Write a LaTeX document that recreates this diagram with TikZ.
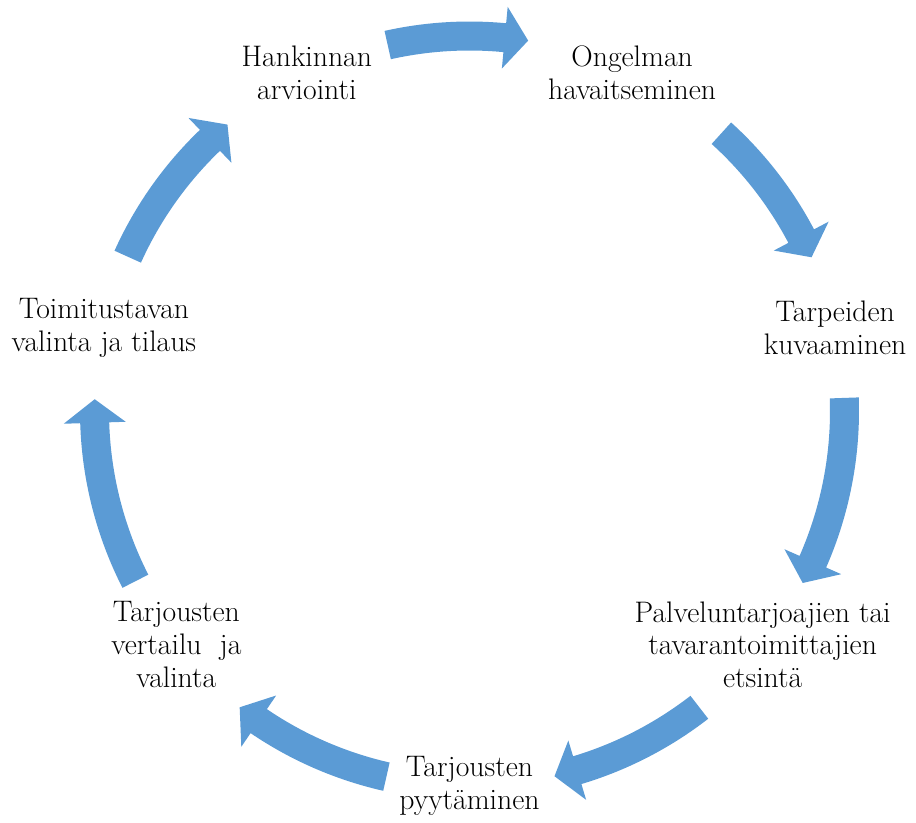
\documentclass[tikz,border=0pt]{standalone}
\usepackage{tikz}
\usetikzlibrary{calc,positioning}
\definecolor{cycleblue}{HTML}{5B9BD5}

\newcommand{\cyclearrow}[2]{%
  \fill[arrowfill] ($(c)+(#1:7.79)$) arc[start angle=#1, end angle=#2+3.6, radius=7.79]
    -- ($(c)+(#2+3.6:8.12)$) -- ($(c)+(#2:7.5)$) -- ($(c)+(#2+3.6:6.88)$)
    -- ($(c)+(#2+3.6:7.21)$) arc[start angle=#2+3.6, end angle=#1, radius=7.21] -- cycle;}

\begin{document}
\begin{tikzpicture}[
    stagetext/.style={align=center, font=\fontsize{16.9}{18.7}\selectfont},
    arrowfill/.style={fill=cycleblue}]
  \useasboundingbox (0,0) rectangle (18.32,-16.46);
  \coordinate (c) at (9.39,-8.22);

  \node[stagetext] (ongelma) at ($(c)+(64.29:7.5)$) {Ongelman\\havaitseminen};
  \node[stagetext] (tarpeet) at ($(c)+(12.86:7.5)$) {Tarpeiden\\kuvaaminen};
  \node[stagetext] (etsinta) at ($(c)+(-38.57:7.5)$) {Palveluntarjoajien tai\\tavarantoimittajien\\etsintä};
  \node[stagetext] (pyynto) at ($(c)+(-90:7.5)$) {Tarjousten\\pyytäminen};
  \node[stagetext] (vertailu) at ($(c)+(-141.43:7.5)$) {Tarjousten\\vertailu~~ja\\valinta};
  \node[stagetext] (tilaus) at ($(c)+(167.14:7.5)$) {Toimitustavan\\valinta ja tilaus};
  \node[stagetext] (arviointi) at ($(c)+(115.71:7.5)$) {Hankinnan\\arviointi};

  \foreach \a/\b in {102.6/81.0, 47.8/24.2, 2.0/-27.3, -52.2/-76.9,
                     -102.8/-127.8, -153.0/-181.8, 155.7/130.2}
    \cyclearrow{\a}{\b};
\end{tikzpicture}
\end{document}
